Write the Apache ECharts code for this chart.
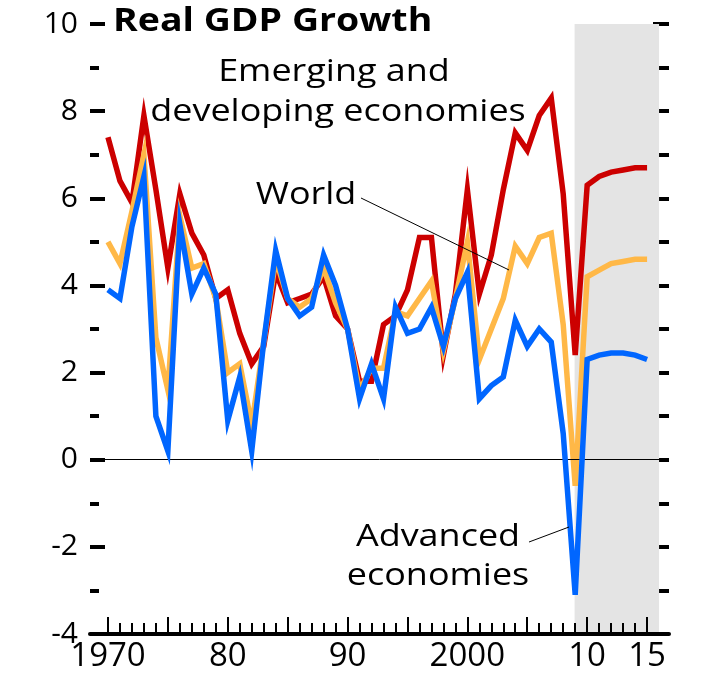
<!DOCTYPE html>
<html>
<head>
<meta charset="utf-8">
<script src="https://cdn.jsdelivr.net/npm/echarts@6/dist/echarts.min.js"></script>
<style>
html,body{margin:0;padding:0;background:#fff;}
#chart{width:716px;height:685px;}
</style>
</head>
<body>
<div id="chart"></div>
<script>
// ---- data ----
var years = [1970,1971,1972,1973,1974,1975,1976,1977,1978,1979,
             1980,1981,1982,1983,1984,1985,1986,1987,1988,1989,
             1990,1991,1992,1993,1994,1995,1996,1997,1998,1999,
             2000,2001,2002,2003,2004,2005,2006,2007,2008,2009,
             2010,2011,2012,2013,2014,2015];
var emerging = [7.4,6.4,5.9,7.9,6.2,4.4,6.1,5.2,4.7,3.7,
                3.9,2.9,2.2,2.6,4.3,3.6,3.7,3.8,4.2,3.3,
                3.0,1.8,1.8,3.1,3.3,3.9,5.1,5.1,2.4,3.8,
                6.2,3.8,4.7,6.2,7.5,7.1,7.9,8.3,6.1,2.4,
                6.3,6.5,6.6,6.65,6.7,6.7];
var world = [5.0,4.5,5.7,7.0,2.8,1.6,5.6,4.4,4.5,3.7,
             2.0,2.2,0.8,2.7,4.6,3.7,3.5,3.7,4.4,3.6,
             3.0,1.6,2.1,2.1,3.4,3.3,3.7,4.1,2.5,3.7,
             5.0,2.3,3.0,3.7,4.9,4.5,5.1,5.2,3.1,-0.6,
             4.2,4.35,4.5,4.55,4.6,4.6];
var advanced = [3.9,3.7,5.35,6.5,1.0,0.2,5.4,3.8,4.4,3.8,
                0.9,1.9,0.2,2.7,4.8,3.7,3.3,3.5,4.7,4.0,
                3.0,1.4,2.2,1.4,3.5,2.9,3.0,3.5,2.6,3.7,
                4.3,1.4,1.7,1.9,3.2,2.6,3.0,2.7,0.6,-3.1,
                2.3,2.4,2.45,2.45,2.4,2.3];
var firstYear = 1970, lastYear = 2015;
var labelYears = [1970,1980,1990,2000,2010,2015];
var labelTexts = ['1970','80','90','2000','10','15'];
var projectionStart = 2008.95;
var projectionEnd = 2016.0;

function pairs(vals){ return years.map(function(y,i){ return [y, vals[i]]; }); }

var FONT = '"Open Sans", "Noto Sans", sans-serif';
var chart = echarts.init(document.getElementById('chart'), null, {renderer:'canvas'});

var xMin = 1968.5, xMax = 2016.83;
var SX = 1.16;

function label(text, x, y, size, bold, sx){
  return {type: 'text', z: 100, x: x, y: y, scaleX: sx,
    style: {text: text, x: 0, y: 0, fill: '#000',
      font: (bold ? 'bold ' : '') + size + 'px ' + FONT,
      textAlign: bold ? 'left' : 'center', textVerticalAlign: 'middle'}};
}

var option = {
  animation: false,
  backgroundColor: '#fff',
  grid: [
    {left: 90, right: 47, top: 24, bottom: 51, containLabel: false},
    // tick grid spanning exactly firstYear..lastYear on the same scale
    {left: 108, right: 69, top: 24, bottom: 51, containLabel: false}
  ],
  xAxis: [
    {
      gridIndex: 0, type: 'value', min: xMin, max: xMax, position: 'bottom', z: 1,
      axisLine: {show: true, onZero: false, lineStyle: {color: '#000', width: 4}},
      axisTick: {show: false}, axisLabel: {show: false}, splitLine: {show: false}
    },
    {
      gridIndex: 1, type: 'value', min: firstYear, max: lastYear, interval: 5, position: 'bottom', z: 10,
      axisLine: {show: false, onZero: false},
      axisTick: {show: true, inside: true, length: 17, lineStyle: {color: '#000', width: 2}},
      minorTick: {show: true, splitNumber: 5, length: 11, lineStyle: {color: '#000', width: 2}},
      axisLabel: {show: true, color: '#000', fontSize: 33, fontFamily: FONT, margin: 6,
                  showMinLabel: true, showMaxLabel: true, hideOverlap: false,
                  formatter: function(v){ var i = labelYears.indexOf(Math.round(v)); return i >= 0 ? labelTexts[i] : ''; }},
      splitLine: {show: false}
    }
  ],
  yAxis: [
    {
      gridIndex: 0, type: 'value', min: -4, max: 10, interval: 2, position: 'left',
      axisLine: {show: false},
      axisTick: {show: true, inside: true, length: 15, lineStyle: {color: '#000', width: 4}},
      minorTick: {show: true, splitNumber: 2, length: 9, lineStyle: {color: '#000', width: 4}},
      axisLabel: {show: true, color: '#000', fontSize: 30, fontFamily: FONT, margin: 12},
      splitLine: {show: false}
    },
    {
      gridIndex: 0, type: 'value', min: -4, max: 10, interval: 2, position: 'right',
      axisLine: {show: false},
      axisTick: {show: true, inside: true, length: 16, lineStyle: {color: '#000', width: 4}},
      minorTick: {show: true, splitNumber: 2, length: 10, lineStyle: {color: '#000', width: 4}},
      axisLabel: {show: false},
      splitLine: {show: false}
    },
    {
      gridIndex: 1, type: 'value', min: 0, max: 1, show: false
    }
  ],
  series: [
    {
      name: 'Emerging and developing economies', type: 'line', data: pairs(emerging),
      xAxisIndex: 0, yAxisIndex: 0,
      showSymbol: false, symbol: 'none', z: 3,
      lineStyle: {color: '#CC0000', width: 5.5, join: 'miter'},
      markArea: {silent: true, itemStyle: {color: '#E4E4E4'},
                 data: [[{xAxis: projectionStart}, {xAxis: projectionEnd}]]},
      markLine: {silent: true, symbol: 'none', label: {show: false},
                 lineStyle: {color: '#000', width: 1, type: 'solid'},
                 data: [{yAxis: 0}]}
    },
    {
      name: 'World', type: 'line', data: pairs(world),
      xAxisIndex: 0, yAxisIndex: 0,
      showSymbol: false, symbol: 'none', z: 4,
      lineStyle: {color: '#FFB847', width: 5.5, join: 'miter'}
    },
    {
      name: 'Advanced economies', type: 'line', data: pairs(advanced),
      xAxisIndex: 0, yAxisIndex: 0,
      showSymbol: false, symbol: 'none', z: 5,
      lineStyle: {color: '#0066FF', width: 5.5, join: 'miter'}
    }
  ],
  graphic: [
    label('Real GDP Growth', 113, 22, 33, true, 1.136),
    label('Emerging and', 334, 72, 31, false, SX),
    label('developing economies', 338, 112, 31, false, SX),
    label('World', 306, 195, 31, false, SX),
    label('Advanced', 438, 537, 31, false, SX),
    label('economies', 438, 576, 31, false, SX),
    {type: 'line', z: 100, shape: {x1: 361, y1: 198, x2: 509, y2: 270},
      style: {stroke: '#000', lineWidth: 1}},
    {type: 'line', z: 100, shape: {x1: 529, y1: 542, x2: 569, y2: 527},
      style: {stroke: '#000', lineWidth: 1}}
  ]
};
chart.setOption(option);
</script>
</body>
</html>
